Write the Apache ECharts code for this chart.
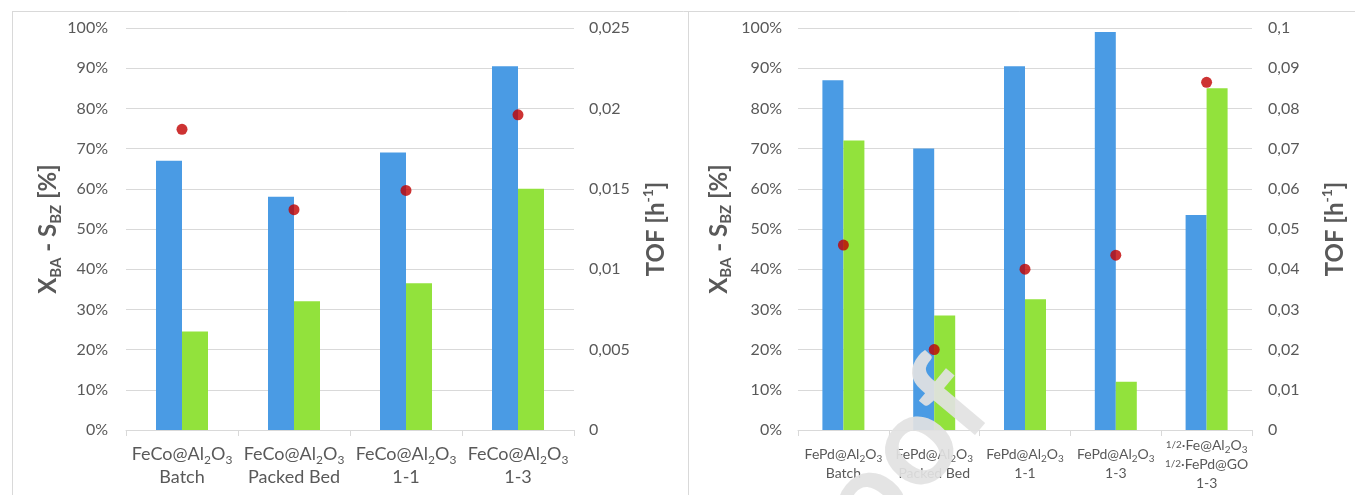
<!DOCTYPE html>
<html><head><meta charset="utf-8">
<script src="https://cdn.jsdelivr.net/npm/echarts@6/dist/echarts.min.js"></script>
<style>html,body{margin:0;padding:0;background:#fff}#c{width:1355px;height:495px}</style>
</head><body><div id="c"></div><script>
// ---- data (left panel: FeCo) ----
const leftCategories = ['FeCo@Al_2O_3\nBatch', 'FeCo@Al_2O_3\nPacked Bed', 'FeCo@Al_2O_3\n1-1', 'FeCo@Al_2O_3\n1-3'];
const leftConversionXBA = [67, 58, 69, 90.5];
const leftSelectivitySBZ = [24.5, 32, 36.5, 60];
const leftTOF = [0.0187, 0.0137, 0.0149, 0.0196];
// ---- data (right panel: FePd) ----
const rightCategories = ['FePd@Al_2O_3\nBatch', 'FePd@Al_2O_3\nPacked Bed', 'FePd@Al_2O_3\n1-1', 'FePd@Al_2O_3\n1-3', '~1/2~·Fe@Al_2O_3\n~1/2~·FePd@GO\n1-3'];
const rightConversionXBA = [87, 70, 90.5, 99, 53.5];
const rightSelectivitySBZ = [72, 28.5, 32.5, 12, 85];
const rightTOF = [0.046, 0.020, 0.040, 0.0435, 0.0865];
// ---- axis ranges / ticks ----
const pctMax = 100, pctStep = 10;
const leftTofMax = 0.025, leftTofStep = 0.005;
const rightTofMax = 0.1, rightTofStep = 0.01;

const FONT = 'Lato, "Noto Sans", sans-serif';
const TXT = '#595959';
const GRID = '#d9d9d9';
const BLUE = '#4a9be4', GREEN = '#92e23c', RED = '#c00000';

function toRich(str, n, s, f) {
  return str.split('\n').map(line => {
    let out = '';
    const re = /_(\d)|~([^~]+)~|([^_~]+)/g; let m;
    while ((m = re.exec(line))) {
      if (m[1]) out += '{' + s + '|' + m[1] + '}';
      else if (m[2]) out += '{' + f + '|' + m[2] + '}';
      else out += '{' + n + '|' + m[3] + '}';
    }
    return out;
  }).join('\n');
}
const pct = v => v + '%';
const comma = v => v === 0 ? '0' : String(parseFloat(v.toFixed(4))).replace('.', ',');

const titleRich = {
  t: {fontFamily: FONT, fontWeight: 'bold', fontSize: 24, color: TXT, lineHeight: 30},
  ts: {fontFamily: FONT, fontWeight: 'bold', fontSize: 15, color: TXT, lineHeight: 30, verticalAlign: 'bottom'},
  tp: {fontFamily: FONT, fontWeight: 'bold', fontSize: 14, color: TXT, lineHeight: 30, verticalAlign: 'top'}
};
const xTitle = '{t|X}{ts|BA}{t| - S}{ts|BZ}{t| [%]}';
const tofTitle = '{t|TOF [h}{tp|-1}{t|]}';

function catAxis(idx, cats, fs, sfs, ffs, lh, margin) {
  return {
    type: 'category', gridIndex: idx, data: cats,
    axisLine: {lineStyle: {color: GRID, width: 1}},
    axisTick: {show: true, length: 6, lineStyle: {color: GRID}},
    axisLabel: {
      interval: 0, margin: margin, verticalAlign: 'middle',
      formatter: v => toRich(v, 'n', 's', 'f'),
      rich: {
        n: {fontFamily: FONT, fontSize: fs, color: TXT, lineHeight: lh},
        s: {fontFamily: FONT, fontSize: sfs, color: TXT, lineHeight: lh, verticalAlign: 'bottom'},
        f: {fontFamily: FONT, fontSize: ffs, color: TXT, lineHeight: lh}
      }
    }
  };
}
function valAxis(idx, max, step, fmt, grid, pos, margin, name, gap) {
  return {
    type: 'value', gridIndex: idx, min: 0, max: max, interval: step, position: pos,
    axisLine: {show: false}, axisTick: {show: false},
    splitLine: {show: grid, lineStyle: {color: GRID, width: 1}},
    axisLabel: {formatter: fmt, margin: margin, fontFamily: FONT, fontSize: 16, color: TXT},
    name: name, nameLocation: 'middle', nameGap: gap, nameRotate: 90,
    nameTextStyle: {rich: titleRich}
  };
}

const chart = echarts.init(document.getElementById('c'));
chart.setOption({
  backgroundColor: '#fff',
  animation: false,
  grid: [
    {left: 126, right: 781, top: 28, bottom: 65},
    {left: 798, right: 103, top: 28, bottom: 65}
  ],
  xAxis: [
    catAxis(0, leftCategories, 18, 12, 12, 23, 36),
    catAxis(1, rightCategories, 14, 10, 10, 19, 34)
  ],
  yAxis: [
    valAxis(0, pctMax, pctStep, pct, true, 'left', 18, xTitle, 62),
    valAxis(0, leftTofMax, leftTofStep, comma, false, 'right', 15, tofTitle, 67),
    valAxis(1, pctMax, pctStep, pct, true, 'left', 16, xTitle, 64),
    valAxis(1, rightTofMax, rightTofStep, comma, false, 'right', 16, tofTitle, 68)
  ],
  series: [
    {type: 'bar', xAxisIndex: 0, yAxisIndex: 0, data: leftConversionXBA, barWidth: 26, barGap: '0%', itemStyle: {color: BLUE}},
    {type: 'bar', xAxisIndex: 0, yAxisIndex: 0, data: leftSelectivitySBZ, barWidth: 26, barGap: '0%', itemStyle: {color: GREEN}},
    {type: 'scatter', xAxisIndex: 0, yAxisIndex: 1, data: leftTOF, symbolSize: 11, itemStyle: {color: RED}, z: 5},
    {type: 'bar', xAxisIndex: 1, yAxisIndex: 2, data: rightConversionXBA, barWidth: 21, barGap: '0%', itemStyle: {color: BLUE}},
    {type: 'bar', xAxisIndex: 1, yAxisIndex: 2, data: rightSelectivitySBZ, barWidth: 21, barGap: '0%', itemStyle: {color: GREEN}},
    {type: 'scatter', xAxisIndex: 1, yAxisIndex: 3, data: rightTOF, symbolSize: 11, itemStyle: {color: RED}, z: 5}
  ],
  graphic: [
    {type: 'line', shape: {x1: 12, y1: 11.5, x2: 1355, y2: 11.5}, style: {stroke: GRID, lineWidth: 1}, silent: true},
    {type: 'line', shape: {x1: 12.5, y1: 11, x2: 12.5, y2: 495}, style: {stroke: GRID, lineWidth: 1}, silent: true},
    {type: 'line', shape: {x1: 688.5, y1: 11, x2: 688.5, y2: 495}, style: {stroke: GRID, lineWidth: 1}, silent: true},
    {type: 'text', x: 1014, y: 424, rotation: 50 * Math.PI / 180, z: 100, silent: true,
      style: {text: 'Proof', font: 'bold 128px Lato', fill: 'rgba(226,226,226,0.92)', align: 'right', verticalAlign: 'bottom'}}
  ]
});
</script></body></html>
